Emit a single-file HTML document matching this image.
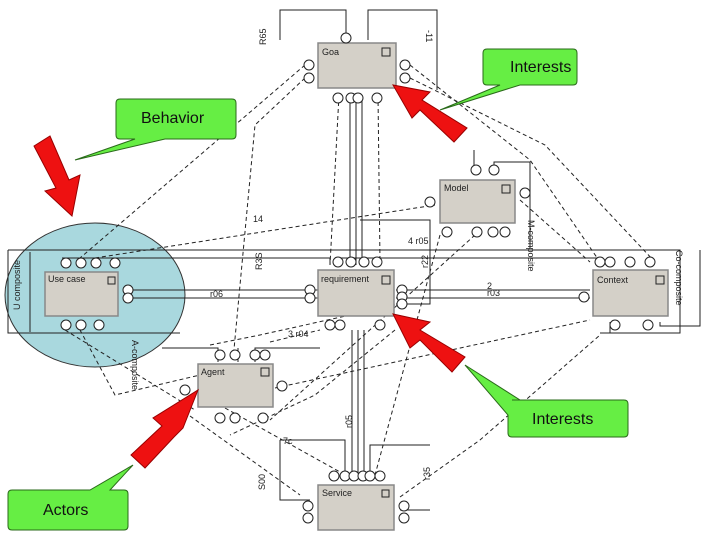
<!DOCTYPE html>
<html><head><meta charset="utf-8"><style>
html,body{margin:0;padding:0;background:#fff;width:720px;height:540px;overflow:hidden}
svg{display:block}
.b{fill:#d4d0c8;stroke:#888;stroke-width:1.5}
.l{stroke:#222;stroke-width:1;fill:none}
.d{stroke:#222;stroke-width:1;fill:none;stroke-dasharray:4 3}
.c{fill:#fff;stroke:#222;stroke-width:1}
.t{font-family:"Liberation Sans",sans-serif;font-size:9px;fill:#222}
.g{fill:#66ee44;stroke:#2a6a1a;stroke-width:1}
.gt{font-family:"Liberation Sans",sans-serif;font-size:16px;fill:#111}
.r{fill:#ee1111;stroke:#900;stroke-width:1}
</style></head><body>
<svg width="720" height="540" viewBox="0 0 720 540" xmlns="http://www.w3.org/2000/svg">
<ellipse cx="95" cy="295" rx="90" ry="72" fill="#a9d8de" stroke="#333" stroke-width="1"/>
<!-- frame -->
<path class="l" d="M8 250 H680 V333 H600 M8 250 V333 H180"/>
<path class="l" d="M30 252 V332" />
<!-- top lines -->
<path class="l" d="M280 40 V10 H346 V38"/>
<path class="l" d="M368 40 V10 H437 V90"/>
<!-- horizontals -->
<path class="l" d="M130 290 H318 M130 298 H318 M396 290 H590 M396 298 H590 M396 304 H430 V220 H360"/>
<path class="l" d="M62 258 H330 V265 M340 258 H600 V265"/>
<!-- verticals goa->req -->
<path class="l" d="M350 95 V265 M356 95 V265 M362 95 V265"/>
<path class="l" d="M352 330 V475 M358 330 V475 M364 330 V475"/>
<!-- dashed diagonals -->
<path class="d" d="M305 65 L80 258"/>
<path class="d" d="M305 78 L255 125 L233 360"/>
<path class="d" d="M410 65 L530 160 L600 262"/>
<path class="d" d="M410 78 L545 145 L655 262"/>
<path class="d" d="M339 95 L330 265"/>
<path class="d" d="M378 95 L380 262"/>
<path class="d" d="M95 258 L435 205"/>
<path class="d" d="M270 342 L320 330"/>
<path class="d" d="M210 345 L260 335 L395 305"/>
<path class="d" d="M520 200 L590 262"/>
<path class="d" d="M475 235 L270 420"/>
<path class="d" d="M440 235 L375 475"/>
<path class="d" d="M275 388 L590 320"/>
<path class="d" d="M225 408 L340 472"/>
<path class="d" d="M190 416 L300 495"/>
<path class="d" d="M400 497 L480 440 L600 335"/>
<path class="d" d="M395 330 L315 395 L230 435"/>
<path class="d" d="M80 330 L115 395 L200 375"/>
<path class="d" d="M65 330 L195 410"/>
<path class="l" d="M280 440 V500 H310 M280 440 H345 V475"/>
<path class="l" d="M370 475 V445 H430"/>
<path class="l" d="M400 510 H430"/>
<path class="l" d="M162 348 H218 V362 M238 362 V348 M255 362 V348 H320"/>
<path class="l" d="M610 322 V333 M660 322 V326 H700 V250"/>
<path class="l" d="M474 170 V150 M494 170 V162 H530 V248"/>
<!-- boxes -->
<rect class="b" x="318" y="43" width="78" height="45"/>
<rect class="b" x="440" y="180" width="75" height="43"/>
<rect class="b" x="45" y="272" width="73" height="44"/>
<rect class="b" x="318" y="270" width="76" height="46"/>
<rect class="b" x="593" y="270" width="75" height="46"/>
<rect class="b" x="198" y="364" width="75" height="43"/>
<rect class="b" x="318" y="485" width="76" height="45"/>
<g fill="none" stroke="#222"><rect x="382" y="48" width="8" height="8"/><rect x="502" y="185" width="8" height="8"/><rect x="108" y="277" width="7" height="7"/><rect x="382" y="276" width="8" height="8"/><rect x="656" y="276" width="8" height="8"/><rect x="261" y="368" width="8" height="8"/><rect x="382" y="490" width="7" height="7"/></g>
<g class="t"><text x="322" y="55">Goa</text><text x="444" y="191">Model</text><text x="48" y="282">Use case</text><text x="321" y="282">requirement</text><text x="597" y="283">Context</text><text x="201" y="375">Agent</text><text x="322" y="496">Service</text>
<text x="210" y="297">r06</text><text x="487" y="296">r03</text><text x="487" y="289">2</text><text x="288" y="337">3 r04</text><text x="408" y="244">4 r05</text><text x="253" y="222">14</text><text x="283" y="444">7c</text>
<text transform="translate(20,310) rotate(-90)">U composite</text><text transform="translate(262,270) rotate(-90)">R3S</text><text transform="translate(428,268) rotate(-90)">r22</text><text transform="translate(528,220) rotate(90)">M-composite</text><text transform="translate(676,250) rotate(90)">Co-composite</text><text transform="translate(132,340) rotate(90)">A-composite</text><text transform="translate(266,45) rotate(-90)">R65</text><text transform="translate(426,30) rotate(90)">-11</text><text transform="translate(265,490) rotate(-90)">S00</text><text transform="translate(430,480) rotate(-90)">r35</text><text transform="translate(352,428) rotate(-90)">r05</text></g>
<!-- connector circles -->
<g class="c">
<circle cx="309" cy="65" r="5"/><circle cx="309" cy="78" r="5"/><circle cx="405" cy="65" r="5"/><circle cx="405" cy="78" r="5"/><circle cx="346" cy="38" r="5"/>
<circle cx="338" cy="98" r="5"/><circle cx="351" cy="98" r="5"/><circle cx="358" cy="98" r="5"/><circle cx="377" cy="98" r="5"/>
<circle cx="66" cy="263" r="5"/><circle cx="81" cy="263" r="5"/><circle cx="96" cy="263" r="5"/><circle cx="115" cy="263" r="5"/>
<circle cx="128" cy="290" r="5"/><circle cx="128" cy="298" r="5"/><circle cx="66" cy="325" r="5"/><circle cx="81" cy="325" r="5"/><circle cx="99" cy="325" r="5"/>
<circle cx="310" cy="290" r="5"/><circle cx="310" cy="298" r="5"/><circle cx="338" cy="262" r="5"/><circle cx="351" cy="262" r="5"/><circle cx="364" cy="262" r="5"/><circle cx="377" cy="262" r="5"/>
<circle cx="402" cy="290" r="5"/><circle cx="402" cy="297" r="5"/><circle cx="402" cy="304" r="5"/><circle cx="330" cy="325" r="5"/><circle cx="340" cy="325" r="5"/><circle cx="380" cy="325" r="5"/>
<circle cx="600" cy="262" r="5"/><circle cx="610" cy="262" r="5"/><circle cx="630" cy="262" r="5"/><circle cx="650" cy="262" r="5"/><circle cx="584" cy="297" r="5"/><circle cx="615" cy="325" r="5"/><circle cx="648" cy="325" r="5"/>
<circle cx="476" cy="170" r="5"/><circle cx="494" cy="170" r="5"/><circle cx="430" cy="202" r="5"/><circle cx="525" cy="193" r="5"/><circle cx="447" cy="232" r="5"/><circle cx="477" cy="232" r="5"/><circle cx="493" cy="232" r="5"/><circle cx="505" cy="232" r="5"/>
<circle cx="220" cy="355" r="5"/><circle cx="235" cy="355" r="5"/><circle cx="255" cy="355" r="5"/><circle cx="265" cy="355" r="5"/><circle cx="185" cy="390" r="5"/><circle cx="282" cy="386" r="5"/><circle cx="220" cy="418" r="5"/><circle cx="235" cy="418" r="5"/><circle cx="263" cy="418" r="5"/>
<circle cx="334" cy="476" r="5"/><circle cx="345" cy="476" r="5"/><circle cx="354" cy="476" r="5"/><circle cx="363" cy="476" r="5"/><circle cx="370" cy="476" r="5"/><circle cx="380" cy="476" r="5"/><circle cx="308" cy="506" r="5"/><circle cx="308" cy="518" r="5"/><circle cx="404" cy="506" r="5"/><circle cx="404" cy="518" r="5"/>
</g>
<!-- callouts -->
<path class="g" d="M487 49 H573 Q577 49 577 53 V81 Q577 85 573 85 H520 L440 110 L500 85 H487 Q483 85 483 81 V53 Q483 49 487 49Z"/>
<text class="gt" x="510" y="72">Interests</text>
<path class="g" d="M120 99 H232 Q236 99 236 103 V135 Q236 139 232 139 H165 L75 160 L135 139 H120 Q116 139 116 135 V103 Q116 99 120 99Z"/>
<text class="gt" x="141" y="123">Behavior</text>
<path class="g" d="M512 400 H624 Q628 400 628 404 V433 Q628 437 624 437 H512 Q508 437 508 433 V415 L465 365 L520 400Z"/>
<text class="gt" x="532" y="424">Interests</text>
<path class="g" d="M12 490 H90 L133 465 L110 490 H124 Q128 490 128 494 V526 Q128 530 124 530 H12 Q8 530 8 526 V494 Q8 490 12 490Z"/>
<text class="gt" x="43" y="515">Actors</text>
<!-- red arrows -->
<g class="r">
<polygon points="34,146 50,136 69,180 80,175 72,216 45,191 56,188"/>
<polygon points="467,128 454,142 420,110 412,118 393,85 430,92 422,100"/>
<polygon points="465,357 452,372 420,340 410,348 393,314 430,322 420,330"/>
<polygon points="145,468 131,455 162,426 153,418 198,390 183,428 174,437"/>
</g>
</svg>
</body></html>
